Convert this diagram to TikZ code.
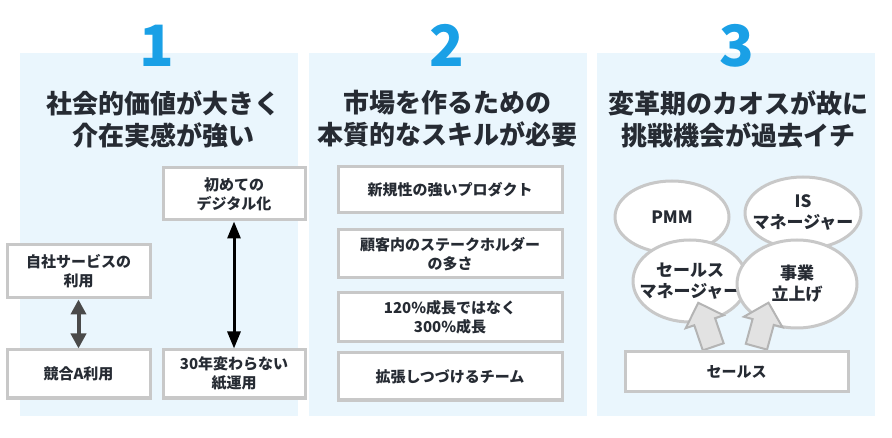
\documentclass[tikz,border=0pt]{standalone}
\usepackage{fontspec}
\setmainfont{Noto Sans CJK JP}
\usetikzlibrary{arrows.meta,shapes.geometric,shapes.arrows}

\definecolor{PanelBlue}{HTML}{EAF6FD}
\definecolor{NumBlue}{HTML}{1AA0E6}
\definecolor{LineGray}{HTML}{C8C8C8}
\definecolor{InkDark}{HTML}{262B33}
\definecolor{ArrowGray}{HTML}{4A4A4A}
\definecolor{BlockFill}{HTML}{E2E2E2}
\definecolor{BlockLine}{HTML}{B4B4B4}

\tikzset{
  PanelStyle/.style = { rectangle, fill = PanelBlue, inner sep = 0pt,
                        minimum width = 278, minimum height = 363 },
  NumStyle/.style   = { text = NumBlue, anchor = base,
                        font = \fontsize{57}{57}\selectfont\bfseries },
  TitleStyle/.style = { text = InkDark, align = center, inner sep = 0pt,
                        font = \fontsize{26}{32}\selectfont\bfseries },
  BoxStyle/.style   = { rectangle, draw = LineGray, line width = 3pt,
                        fill = white, align = center, inner sep = 0pt,
                        text = InkDark,
                        font = \fontsize{15}{19}\selectfont\bfseries },
  CloudStyle/.style = { ellipse, draw = LineGray, line width = 3pt,
                        fill = white, align = center,
                        inner xsep = -40pt, inner ysep = -30pt,
                        text = InkDark,
                        font = \fontsize{17}{21}\selectfont\bfseries },
  UpArrow/.style    = { single arrow, draw = BlockLine, fill = BlockFill,
                        line width = 2pt, inner xsep = 0pt, inner ysep = 10pt,
                        single arrow head extend = 9,
                        single arrow head indent = 0pt }
}

\begin{document}
\begin{tikzpicture}[x=1pt,y=-1pt]
  \useasboundingbox (0,0) rectangle (892,438);

  % panels
  \node[PanelStyle] (p1) at (159,234.5) {};
  \node[PanelStyle] (p2) at (447.5,234.5) {};
  \node[PanelStyle] (p3) at (736,234.5) {};

  \node[NumStyle] (n1) at (157,67) {1};
  \node[NumStyle] (n2) at (447,67) {2};
  \node[NumStyle] (n3) at (737,67) {3};

  \node[TitleStyle] (t1) at (163,119) {社会的価値が大きく\\介在実感が強い};
  \node[TitleStyle] (t2) at (447,119) {市場を作るための\\本質的なスキルが必要};
  \node[TitleStyle] (t3) at (738,119) {変革期のカオスが故に\\挑戦機会が過去イチ};

  % panel 1
  \node[BoxStyle, minimum width = 142, minimum height = 52] (dg) at (234,194)
    {初めての\\デジタル化};
  \node[BoxStyle, minimum width = 143, minimum height = 53] (sb) at (78.5,271.5)
    {自社サービスの\\利用};
  \node[BoxStyle, minimum width = 143, minimum height = 48] (ca) at (78.5,374)
    {競合A利用};
  \node[BoxStyle, minimum width = 142, minimum height = 48] (pp) at (234,374)
    {30年変わらない\\紙運用};

  \draw[ArrowGray, line width = 4pt,
        {Triangle[width=15pt,length=15pt]}-{Triangle[width=15pt,length=15pt]}]
    (sb) -- (ca);
  \draw[black, line width = 3pt,
        {Triangle[width=13pt,length=17pt]}-{Triangle[width=13pt,length=17pt]}]
    (dg) -- (pp);

  % panel 2
  \node[BoxStyle, minimum width = 224, minimum height = 46] (b1) at (450,190)
    {新規性の強いプロダクト};
  \node[BoxStyle, minimum width = 224, minimum height = 48] (b2) at (450,254)
    {顧客内のステークホルダー\\の多さ};
  \node[BoxStyle, minimum width = 224, minimum height = 49] (b3) at (450,317.5)
    {120\%成長ではなく\\300\%成長};
  \node[BoxStyle, minimum width = 224, minimum height = 47] (b4) at (450,376.5)
    {拡張しつづけるチーム};

  % panel 3
  \node[CloudStyle, minimum width = 114, minimum height = 72] (pmm) at (672,217)
    {PMM};
  \node[CloudStyle, minimum width = 116, minimum height = 72] (ism) at (803,213)
    {IS\\マネージャー};
  \node[CloudStyle, minimum width = 114, minimum height = 82] (smg) at (690,281)
    {セールス\\マネージャー};
  \node[CloudStyle, minimum width = 120, minimum height = 88] (biz) at (797,284)
    {事業\\立上げ};

  \node[UpArrow, minimum height = 46.5, rotate = 108.8] (a1) at (707.5,330) {};
  \node[UpArrow, minimum height = 45.6, rotate = 74.7] (a2) at (761,330) {};

  \node[BoxStyle, minimum width = 223, minimum height = 40] (sl) at (736.5,372)
    {セールス};
\end{tikzpicture}
\end{document}
